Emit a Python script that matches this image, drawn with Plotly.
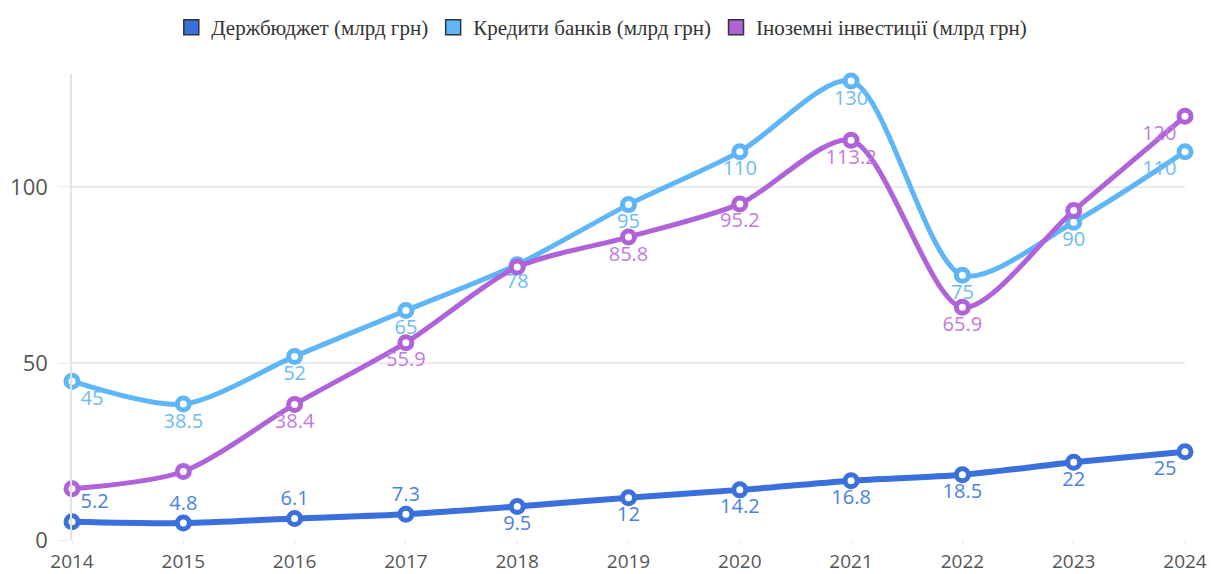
import plotly.graph_objects as go

years = [2014, 2015, 2016, 2017, 2018, 2019, 2020, 2021, 2022, 2023, 2024]
budget = [5.2, 4.8, 6.1, 7.3, 9.5, 12, 14.2, 16.8, 18.5, 22, 25]
credits = [45, 38.5, 52, 65, 78, 95, 110, 130, 75, 90, 110]
foreign = [14.5, 19.4, 38.4, 55.9, 77.3, 85.8, 95.2, 113.2, 65.9, 93.3, 120]

names = ["Держбюджет (млрд грн)", "Кредити банків (млрд грн)", "Іноземні інвестиції (млрд грн)"]
colors = ["#3a6fdc", "#5fb6f7", "#b062d9"]
label_colors = ["#4a80e4", "#6bbcf5", "#c27ae3"]

# labels hidden in the reference (overlapping)
foreign_hidden = [2014, 2015, 2018, 2023]
budget_top = [2014, 2015, 2016, 2017]


def fmt(v):
    return ("%g" % v)


def pos(y, vert):
    if y == years[0]:
        return vert + " right"
    if y == years[-1]:
        return vert + " left"
    return vert + " center"


series = [budget, credits, foreign]
texts = [
    [fmt(v) for v in budget],
    [fmt(v) for v in credits],
    ["" if y in foreign_hidden else fmt(v) for y, v in zip(years, foreign)],
]
positions = [
    [pos(y, "top" if y in budget_top else "bottom") for y in years],
    [pos(y, "bottom") for y in years],
    [pos(y, "bottom") for y in years],
]

fig = go.Figure()
order = [1, 2, 0]
for i in order:
    fig.add_trace(go.Scatter(
        x=years, y=series[i], mode="lines+markers+text",
        line=dict(color=colors[i], width=6 if i == 0 else 5, shape="spline", smoothing=0.8),
        marker=dict(symbol="circle", size=12, color="white", line=dict(color=colors[i], width=5)),
        text=texts[i], textposition=positions[i],
        textfont=dict(family="Open Sans, sans-serif", size=20, color=label_colors[i]),
        cliponaxis=False, showlegend=False, hoverinfo="x+y", name=names[i],
    ))

for i in range(3):
    fig.add_trace(go.Scatter(
        x=[None], y=[None], mode="markers", name=names[i],
        marker=dict(symbol="square", size=15, color=colors[i], line=dict(color="#333", width=1.5)),
        showlegend=True,
    ))

fig.update_layout(
    width=1213, height=574,
    margin=dict(l=72, r=28, t=74, b=34),
    paper_bgcolor="white", plot_bgcolor="white",
    legend=dict(orientation="h", x=0.476, xanchor="center", y=0.952, yanchor="middle",
                yref="container", font=dict(family="Liberation Serif, serif", size=21, color="#333"),
                tracegroupgap=0, itemwidth=30),
    xaxis=dict(range=[2014, 2024], tickmode="array", tickvals=years, ticktext=[str(y) for y in years],
               showgrid=False, zeroline=False, showline=False, automargin=False,
               ticks="outside", ticklen=4, tickcolor="#e3e3e3",
               tickfont=dict(family="Open Sans, sans-serif", size=19, color="#555")),
    yaxis=dict(range=[0, 132], tickvals=[0, 50, 100], showgrid=True, gridcolor="#ebebeb", gridwidth=1.5,
               zeroline=False, showline=True, linecolor="#e3e3e3", linewidth=1.5, automargin=False,
               ticks="outside", ticklen=12, tickcolor="#ebebeb", ticklabelstandoff=6,
               tickfont=dict(family="Open Sans, sans-serif", size=22, color="#555")),
)
fig.write_html("out.html")
